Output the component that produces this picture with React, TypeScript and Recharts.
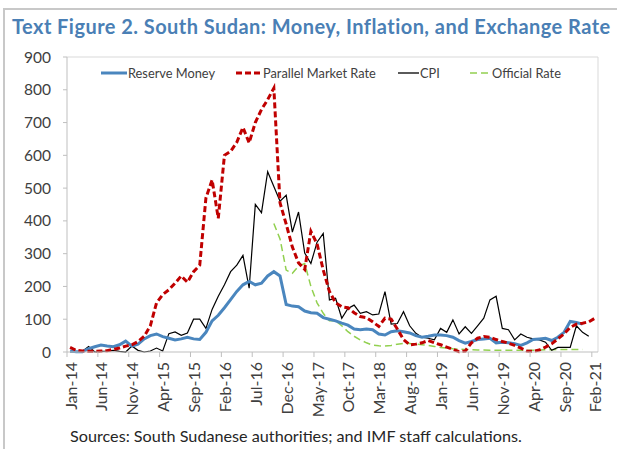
import React from 'react';
import { LineChart, Line, XAxis, YAxis, ReferenceLine } from 'recharts';

const FONT = 'Lato, "Open Sans", sans-serif';

const monthNames = ['Jan', 'Feb', 'Mar', 'Apr', 'May', 'Jun', 'Jul', 'Aug', 'Sep', 'Oct', 'Nov', 'Dec'];
const categories: string[] = [];
for (let yr = 14; yr <= 21; yr++) {
  for (let m = 0; m < 12; m++) {
    if (yr === 21 && m > 1) break;
    categories.push(`${monthNames[m]}-${yr}`);
  }
}
const tickIdx = [0, 5, 10, 15, 20, 25, 30, 35, 40, 45, 50, 55, 60, 65, 70, 75, 80, 85];
const yTicks = [0, 100, 200, 300, 400, 500, 600, 700, 800, 900];

const reserveMoney: (number | null)[] = [
  3, 1, 1, 10, 16, 21, 18, 16, 22, 33,
  18, 24, 40, 50, 55, 47, 42, 37, 40, 45,
  40, 38, 60, 95, 112, 135, 160, 185, 205, 215,
  205, 210, 232, 245, 232, 145, 140, 138, 125, 120,
  118, 105, 100, 95, 88, 82, 70, 68, 70, 68,
  55, 52, 62, 65, 62, 58, 50, 45, 48, 52,
  52, 50, 45, 35, 27, 32, 38, 40, 42, 28,
  30, 28, 25, 20, 28, 38, 40, 42, 35, 45,
  60, 93, 90, 85, null, null,
];

const parallelRate: (number | null)[] = [
  14, 5, 3, 2, 2, 3, 4, 8, 12, 18,
  22, 32, 48, 80, 150, 175, 190, 210, 232, 213,
  245, 265, 470, 525, 408, 600, 612, 640, 685, 638,
  700, 740, 770, 805, 455, 390, 320, 272, 252, 368,
  330, 250, 185, 150, 138, 135, 120, 108, 105, 92,
  78, 103, 100, 70, 38, 22, 24, 28, 35, 28,
  22, 15, 8, 1, 3, 28, 42, 47, 45, 38,
  32, 27, 20, 12, 3, 2, 6, 15, 25, 40,
  55, 75, 85, 88, 92, 103,
];

const cpi: (number | null)[] = [
  0, 0, 2, 17, 0, 2, 3, 5, 2, 0,
  18, 5, 0, 3, 12, 3, 56, 61, 51, 58,
  100, 100, 72, 130, 170, 205, 245, 265, 295, 195,
  450, 425, 550, 505, 460, 478, 366, 427, 302, 270,
  335, 362, 159, 164, 103, 133, 143, 118, 123, 113,
  116, 184, 85, 87, 123, 80, 57, 45, 42, 37,
  72, 60, 98, 55, 77, 57, 80, 103, 159, 170,
  72, 68, 37, 55, 45, 40, 37, 30, 5, 14,
  14, 14, 80, 60, 48, null,
];

const officialRate: (number | null)[] = [
  null, null, null, null, null, null, null, null, null, null,
  null, null, null, null, null, null, null, null, null, null,
  null, null, null, null, null, null, null, null, null, null,
  null, null, null, 392, 345, 250, 240, 262, 270, 200,
  150, 118, 95, 95, 80, 62, 48, 37, 28, 21,
  19, 18, 20, 24, 26, 26, 24, 22, 20, 17,
  14, 12, 10, 9, 8, 7, 6, 6, 5, 5,
  5, 5, 5, 5, 5, 5, 6, 7, 7, 8,
  8, 8, 8, 8, null, null,
];

const data = categories.map((c, i) => ({
  idx: i,
  month: c,
  reserve: reserveMoney[i],
  parallel: parallelRate[i],
  cpi: cpi[i],
  official: officialRate[i],
}));

const PLOT_LEFT = 67;
const PLOT_RIGHT = 598;
const BAND = (PLOT_RIGHT - PLOT_LEFT) / categories.length;
const AXIS_COLOR = '#bfbfbf';
const TEXT_COLOR = '#404040';

function XTick(props: any) {
  const { x, y, payload } = props;
  const bx = x - BAND / 2;
  return (
    <g>
      <line x1={bx} x2={bx} y1={y - 10} y2={y - 5} stroke={AXIS_COLOR} strokeWidth={1} />
      <text
        x={x}
        y={y}
        transform={`rotate(-90 ${x} ${y})`}
        textAnchor="end"
        dominantBaseline="central"
        fontSize={16}
        fontFamily={FONT}
        fill={TEXT_COLOR}
      >
        {categories[payload.value]}
      </text>
    </g>
  );
}

const legendItems = [
  { label: 'Reserve Money', x: 101, color: '#4a86be', width: 3, dash: undefined as string | undefined, len: 26 },
  { label: 'Parallel Market Rate', x: 236, color: '#c00000', width: 3, dash: '6 3', len: 26 },
  { label: 'CPI', x: 398, color: '#000000', width: 1.3, dash: undefined, len: 21 },
  { label: 'Official Rate', x: 470, color: '#92d050', width: 1.5, dash: '7 4', len: 21 },
];

export default function App() {
  return (
    <div
      style={{
        position: 'absolute',
        left: 0,
        top: 0,
        width: 617,
        height: 449,
        background: '#ffffff',
        overflow: 'hidden',
        fontFamily: FONT,
      }}
    >
      <div
        style={{
          position: 'absolute',
          left: 3,
          top: 8,
          width: 800,
          height: 800,
          borderLeft: '2px solid #c8c8c8',
          borderTop: '2px solid #c8c8c8',
        }}
      />
      <div
        style={{
          position: 'absolute',
          left: 12,
          top: 14,
          fontSize: 20,
          letterSpacing: 0.45,
          fontWeight: 700,
          color: '#4a7fb5',
          whiteSpace: 'nowrap',
          lineHeight: '24px',
        }}
      >
        Text Figure 2. South Sudan: Money, Inflation, and Exchange Rate
      </div>
      <div style={{ position: 'absolute', left: 0, top: 0 }}>
        <LineChart
          width={617}
          height={449}
          data={data}
          margin={{ top: 57, right: 617 - PLOT_RIGHT, left: 7, bottom: 37 }}
        >
          <XAxis
            dataKey="idx"
            type="number"
            domain={[-0.5, 85.5]}
            ticks={tickIdx}
            interval={0}
            height={60}
            tickSize={5}
            tickMargin={5}
            tickLine={false}
            axisLine={{ stroke: AXIS_COLOR, strokeWidth: 1 }}
            tick={<XTick />}
            allowDataOverflow
          />
          <YAxis
            type="number"
            domain={[0, 900]}
            ticks={yTicks}
            interval={0}
            width={60}
            tickSize={4}
            tickMargin={12}
            axisLine={{ stroke: AXIS_COLOR, strokeWidth: 1 }}
            tickLine={{ stroke: AXIS_COLOR, strokeWidth: 1 }}
            tick={{ fontSize: 15.5, fill: TEXT_COLOR, fontFamily: FONT }}
          />
          <ReferenceLine y={900} stroke="#d9d9d9" strokeWidth={1} />
          <ReferenceLine x={85.5} stroke="#d9d9d9" strokeWidth={1} />
          <Line
            type="linear"
            dataKey="official"
            stroke="#92d050"
            strokeWidth={1.5}
            strokeDasharray="7 4"
            dot={false}
            isAnimationActive={false}
            connectNulls={false}
          />
          <Line
            type="linear"
            dataKey="cpi"
            stroke="#000000"
            strokeWidth={1.2}
            dot={false}
            isAnimationActive={false}
          />
          <Line
            type="linear"
            dataKey="reserve"
            stroke="#4a86be"
            strokeWidth={3}
            dot={false}
            isAnimationActive={false}
          />
          <Line
            type="linear"
            dataKey="parallel"
            stroke="#c00000"
            strokeWidth={3}
            strokeDasharray="6 3"
            dot={false}
            isAnimationActive={false}
          />
        </LineChart>
      </div>
      {legendItems.map((it) => (
        <div
          key={it.label}
          style={{
            position: 'absolute',
            left: it.x,
            top: 64,
            height: 18,
            display: 'flex',
            alignItems: 'center',
            whiteSpace: 'nowrap',
            fontSize: 12.8,
            color: TEXT_COLOR,
          }}
        >
          <svg width={it.len} height={10} style={{ display: 'block', marginRight: 1 }}>
            <line
              x1={0}
              x2={it.len}
              y1={5}
              y2={5}
              stroke={it.color}
              strokeWidth={it.width}
              strokeDasharray={it.dash}
            />
          </svg>
          <span>{it.label}</span>
        </div>
      ))}
      <div
        style={{
          position: 'absolute',
          left: 70,
          top: 427,
          fontSize: 16.2,
          color: '#262626',
          whiteSpace: 'nowrap',
          lineHeight: '18px',
        }}
      >
        Sources: South Sudanese authorities; and IMF staff calculations.
      </div>
    </div>
  );
}
